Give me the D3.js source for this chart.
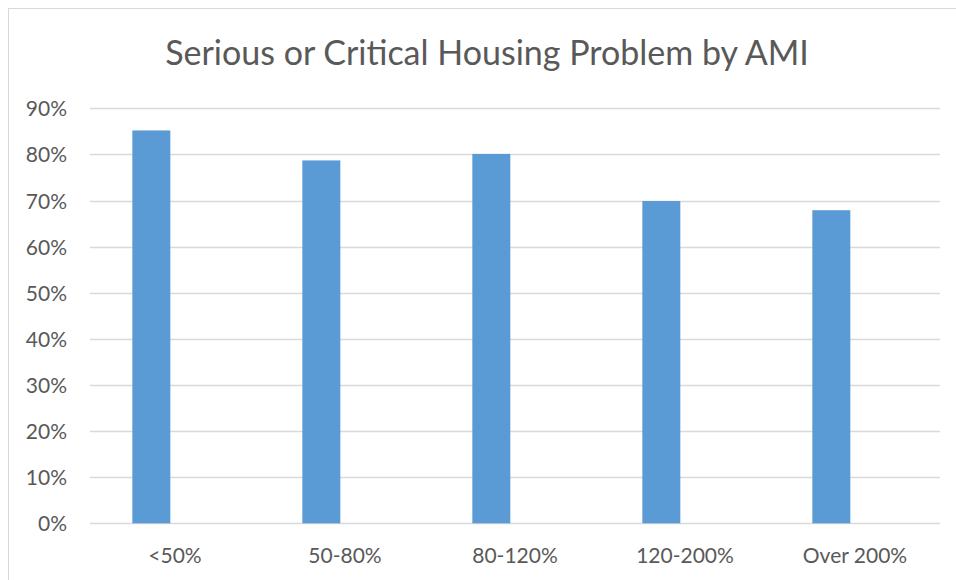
<!DOCTYPE html>
<html>
<head>
<meta charset="utf-8">
<script src="https://cdn.jsdelivr.net/npm/d3@7"></script>
<style>
  html, body { margin: 0; padding: 0; background: #fff; }
  svg { display: block; }
  text { font-family: Lato, "Open Sans", sans-serif; fill: #595959; }
</style>
</head>
<body>
<div id="chart"></div>
<script>
const title = "Serious or Critical Housing Problem by AMI";
const categories = ["<50%", "50-80%", "80-120%", "120-200%", "Over 200%"];
const values = [85.2, 78.7, 80.1, 69.9, 67.9];
const yTicks = [0, 10, 20, 30, 40, 50, 60, 70, 80, 90];

const W = 956, H = 580;
const svg = d3.select("#chart").append("svg").attr("width", W).attr("height", H);

// chart border
svg.append("rect")
  .attr("x", 8.5).attr("y", 8.5)
  .attr("width", W + 20).attr("height", H + 20)
  .attr("fill", "#fff").attr("stroke", "#d9d9d9").attr("stroke-width", 1);

const plot = { left: 90, right: 940, top: 108.3, bottom: 523.3 };

const x = d3.scaleBand().domain(categories).range([plot.left, plot.right]).padding(0);
const y = d3.scaleLinear().domain([0, 90]).range([plot.bottom, plot.top]);

// gridlines
svg.append("g")
  .selectAll("line")
  .data(yTicks)
  .join("line")
  .attr("x1", plot.left).attr("x2", plot.right)
  .attr("y1", d => Math.round(y(d)) + 0.5).attr("y2", d => Math.round(y(d)) + 0.5)
  .attr("stroke", "#d9d9d9").attr("stroke-width", 1.3);

// y axis labels
const yAxis = d3.axisLeft(y).tickValues(yTicks).tickFormat(d => d + "%").tickSize(0).tickPadding(0);
const gy = svg.append("g").attr("transform", "translate(67,0)").call(yAxis);
gy.select(".domain").remove();
gy.selectAll("text")
  .attr("font-family", "Lato, 'Open Sans', sans-serif")
  .attr("font-size", 21).attr("fill", "#595959")
  .attr("dy", "0.36em");

// bars
const bw = x.bandwidth();
svg.append("g")
  .selectAll("rect")
  .data(categories.map((c, i) => ({ c, v: values[i] })))
  .join("rect")
  .attr("x", d => x(d.c) + bw * 0.249)
  .attr("width", bw * 0.2235)
  .attr("y", d => y(d.v))
  .attr("height", d => y(0) - y(d.v))
  .attr("fill", "#5b9bd5");

// x axis labels
const xAxis = d3.axisBottom(x).tickSize(0).tickPadding(0);
const gx = svg.append("g").attr("transform", "translate(0,548)").call(xAxis);
gx.select(".domain").remove();
gx.selectAll("text")
  .attr("font-family", "Lato, 'Open Sans', sans-serif")
  .attr("font-size", 21).attr("fill", "#595959")
  .attr("dy", "0.71em");

// title
svg.append("text")
  .attr("x", 487).attr("y", 65)
  .attr("text-anchor", "middle")
  .attr("font-size", 34)
  .attr("fill", "#595959")
  .text(title);
</script>
</body>
</html>
